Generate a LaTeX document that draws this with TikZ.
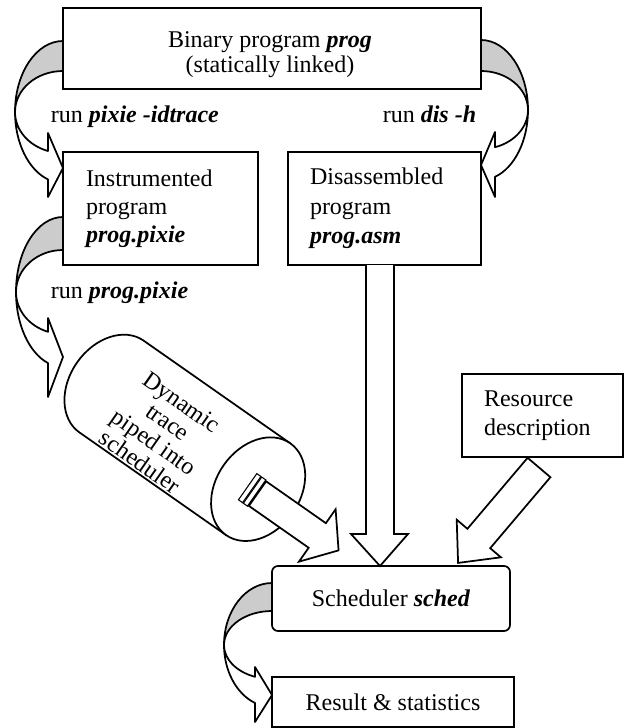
\documentclass[tikz,border=0pt]{standalone}
\usepackage{fontspec}
\setmainfont{Liberation Serif}
\definecolor{ribbongrey}{RGB}{204,204,204}
\tikzset{every picture/.style={line width=1.3pt}}
\newcommand{\bi}[1]{\textbf{\textit{#1}}}

\begin{document}
\begin{tikzpicture}[x=0.75pt,y=0.75pt,yscale=-1,xscale=1,
  box/.style={draw, fill=white, inner sep=0pt, outer sep=0pt, font=\fontsize{18}{21}\selectfont},
  lbl/.style={inner sep=0pt, font=\fontsize{18}{21}\selectfont},
  ribback/.style={draw, fill=ribbongrey, line join=round},
  ribfront/.style={draw, fill=white, line join=round},
  blockarrow/.style={draw, fill=white, line join=miter}]
\useasboundingbox (0,0) rectangle (624,728);

%Shape: Rectangle [binary]
\node[box, minimum width=313.5pt, minimum height=60.75pt] (bin) at (272,48.5) {};
% Text Node
\node[lbl, align=center, font=\fontsize{18}{18.75}\selectfont] (bintext) at (270,55) {Binary program \bi{prog}\\(statically linked)};
%Shape: Rectangle [instrumented]
\node[box, minimum width=146.25pt, minimum height=84.75pt, inner xsep=17.25pt, text width=111.75pt, align=left] (instr) at (160.5,208.5) {Instrumented\\program\\\bi{prog.pixie}};
%Shape: Rectangle [disassembled]
\node[box, minimum width=144.75pt, minimum height=84.75pt, inner xsep=16.5pt, text width=111.75pt, align=left, font=\fontsize{18}{22}\selectfont] (dis) at (384.5,208.5) {Disassembled\\program\\\bi{prog.asm}};
%Shape: Rectangle [resource]
\node[box, minimum width=120.75pt, minimum height=62.25pt, inner xsep=16.5pt, text width=87.75pt, align=left, font=\fontsize{18}{21.75}\selectfont] (res) at (542.5,415.5) {Resource\\description};
%Shape: Rounded Rectangle [scheduler]
\node[box, rounded corners=4.5pt, minimum width=178.5pt, minimum height=48.75pt] (sched) at (391,598.5) {Scheduler \bi{sched}};
%Shape: Rectangle [result]
\node[box, minimum width=181.5pt, minimum height=37.5pt] (result) at (393,702) {Result \& statistics};

% Text Node
\node[lbl, anchor=base west] (runpixie) at (50,122) {run \bi{pixie -idtrace}};
% Text Node
\node[lbl, anchor=base east] (rundis) at (477,122) {run \bi{dis -h}};
% Text Node
\node[lbl, anchor=base west] (runprog) at (50,298) {run \bi{prog.pixie}};

%Curved Arrow: binary -> instrumented
\draw[ribback] (bin.west |- 0,41) arc[start angle=270, end angle=180, x radius=48, y radius=71] arc[start angle=180, end angle=270, x radius=48, y radius=41] -- cycle;
\draw[ribfront] (15,112) arc[start angle=180, end angle=108.2, x radius=48, y radius=71] -- (48,197) -- (instr.west |- 0,168) -- (48,133) -- (48,151) arc[start angle=108.2, end angle=180, x radius=48, y radius=41] -- cycle;
%Curved Arrow: binary -> disassembled
\draw[ribback] (bin.east |- 0,40) arc[start angle=270, end angle=360, x radius=47, y radius=70] arc[start angle=0, end angle=-90, x radius=47, y radius=39] -- cycle;
\draw[ribfront] (528,110) arc[start angle=0, end angle=72.7, x radius=47, y radius=70] -- (495,197) -- (dis.east |- 0,165) -- (495,132) -- (495,147.2) arc[start angle=72.7, end angle=0, x radius=47, y radius=39] -- cycle;
%Curved Arrow: instrumented -> trace
\draw[ribback] (instr.west |- 0,217) arc[start angle=270, end angle=180, x radius=47, y radius=75] arc[start angle=180, end angle=270, x radius=47, y radius=42] -- cycle;
\draw[ribfront] (16,292) arc[start angle=180, end angle=108.6, x radius=47, y radius=75] -- (48,397) -- (63,357) -- (48,318) -- (48,331.8) arc[start angle=108.6, end angle=180, x radius=47, y radius=42] -- cycle;
%Curved Arrow: scheduler -> result
\draw[ribback] (sched.west |- 0,583) arc[start angle=270, end angle=180, x radius=48, y radius=62] arc[start angle=180, end angle=270, x radius=48, y radius=34] -- cycle;
\draw[ribfront] (224,645) arc[start angle=180, end angle=110.7, x radius=48, y radius=62] -- (255,722) -- (result.west |- 0,695) -- (255,667) -- (255,676.8) arc[start angle=110.7, end angle=180, x radius=48, y radius=34] -- cycle;

%Shape: Can [dynamic trace]
\begin{scope}[shift={(111.5,386.5)}, rotate=35]
\draw[fill=white] (0,-56) arc[start angle=270, end angle=90, x radius=42, y radius=56] -- (179,56) -- (179,-56) -- cycle;
\draw[fill=white] (179,0) ellipse [x radius=42, y radius=56];
%plug
\draw[fill=white, line width=0.8pt] (169,-12) rectangle (174,20);
\draw[fill=white, line width=0.8pt] (175,-12) rectangle (180,20);
\draw[blockarrow] (181,-11) -- (254,-11) -- (254,-28) -- (280,4) -- (254,36) -- (254,19) -- (181,19) -- cycle;
\end{scope}
% Text Node
\node[lbl, rotate=-35, align=center, font=\fontsize{18}{18.2}\selectfont] (trace) at (161,432) {Dynamic\\trace\\piped into\\scheduler};

%Block Arrow: disassembled -> scheduler
\draw[blockarrow] (366,0 |- dis.south) -- (366,534) -- (351,534) -- (380,0 |- sched.north) -- (408,534) -- (394,534) -- (394,0 |- dis.south);
%Block Arrow: resource -> scheduler
\draw[blockarrow] (527.6,457.8) -- (467.4,528.8) -- (456.7,519.7) -- (458.1,562.9) -- (500.9,557.3) -- (490.2,548.2) -- (550.4,477.2) -- cycle;

\end{tikzpicture}
\end{document}
